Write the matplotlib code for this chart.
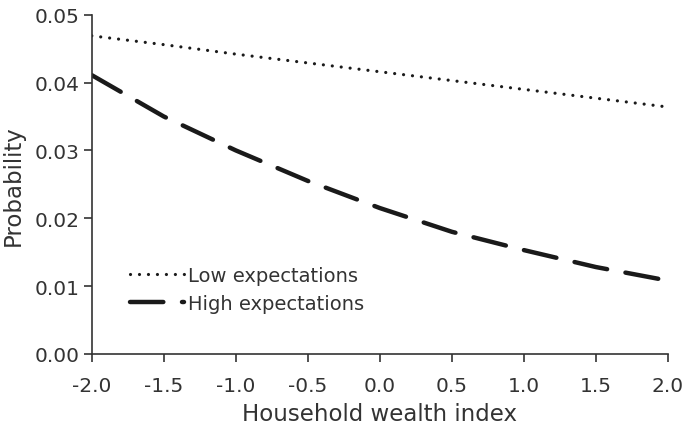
import numpy as np
import matplotlib.pyplot as plt

# --- Data ---
wealth = [-2.0, -1.5, -1.0, -0.5, 0.0, 0.5, 1.0, 1.5, 2.0]
low_exp = [0.0469, 0.0456, 0.0442, 0.0429, 0.0416, 0.0403, 0.0390, 0.0377, 0.0364]
high_exp = [0.0411, 0.0350, 0.0300, 0.0255, 0.0215, 0.0180, 0.0153, 0.0128, 0.0108]
xticks = [-2.0, -1.5, -1.0, -0.5, 0.0, 0.5, 1.0, 1.5, 2.0]
yticks = [0.00, 0.01, 0.02, 0.03, 0.04, 0.05]

# --- Plot ---
fig = plt.figure(figsize=(6.85, 4.27), dpi=100)
ax = fig.add_axes([0.134, 0.169, 0.841, 0.794])

ax.plot(wealth, low_exp, color='#1a1a1a', lw=2.3, linestyle=(0, (0.01, 2.8)),
        dash_capstyle='round', label='Low expectations')
ax.plot(wealth, high_exp, color='#1a1a1a', lw=3.2, linestyle=(0, (7.5, 4.2)),
        dash_capstyle='round', label='High expectations')

ax.set_xlim(-2.0, 2.0)
ax.set_ylim(0.0, 0.05)
ax.set_xticks(xticks)
ax.set_xticklabels([f'{t:.1f}' for t in xticks])
ax.set_yticks(yticks)
ax.set_yticklabels([f'{t:.2f}' for t in yticks])

for s in ['top', 'right']:
    ax.spines[s].set_visible(False)
for s in ['left', 'bottom']:
    ax.spines[s].set_color('#333333')
    ax.spines[s].set_linewidth(1.2)
ax.tick_params(direction='out', length=6, width=1.2, color='#333333',
               labelsize=14.5, labelcolor='#333333')
ax.tick_params(axis='x', pad=10)
ax.tick_params(axis='y', pad=3)

ax.set_xlabel('Household wealth index', fontsize=16.5, color='#333333', labelpad=5)
ax.set_ylabel('Probability', fontsize=16.5, color='#333333', labelpad=7)

leg = ax.legend(loc='upper left', bbox_to_anchor=(0.036, 0.31), frameon=False,
                fontsize=14, handlelength=2.8, handletextpad=0.2, labelspacing=0.45,
                labelcolor='#333333')

fig.savefig('out.png', dpi=100)
